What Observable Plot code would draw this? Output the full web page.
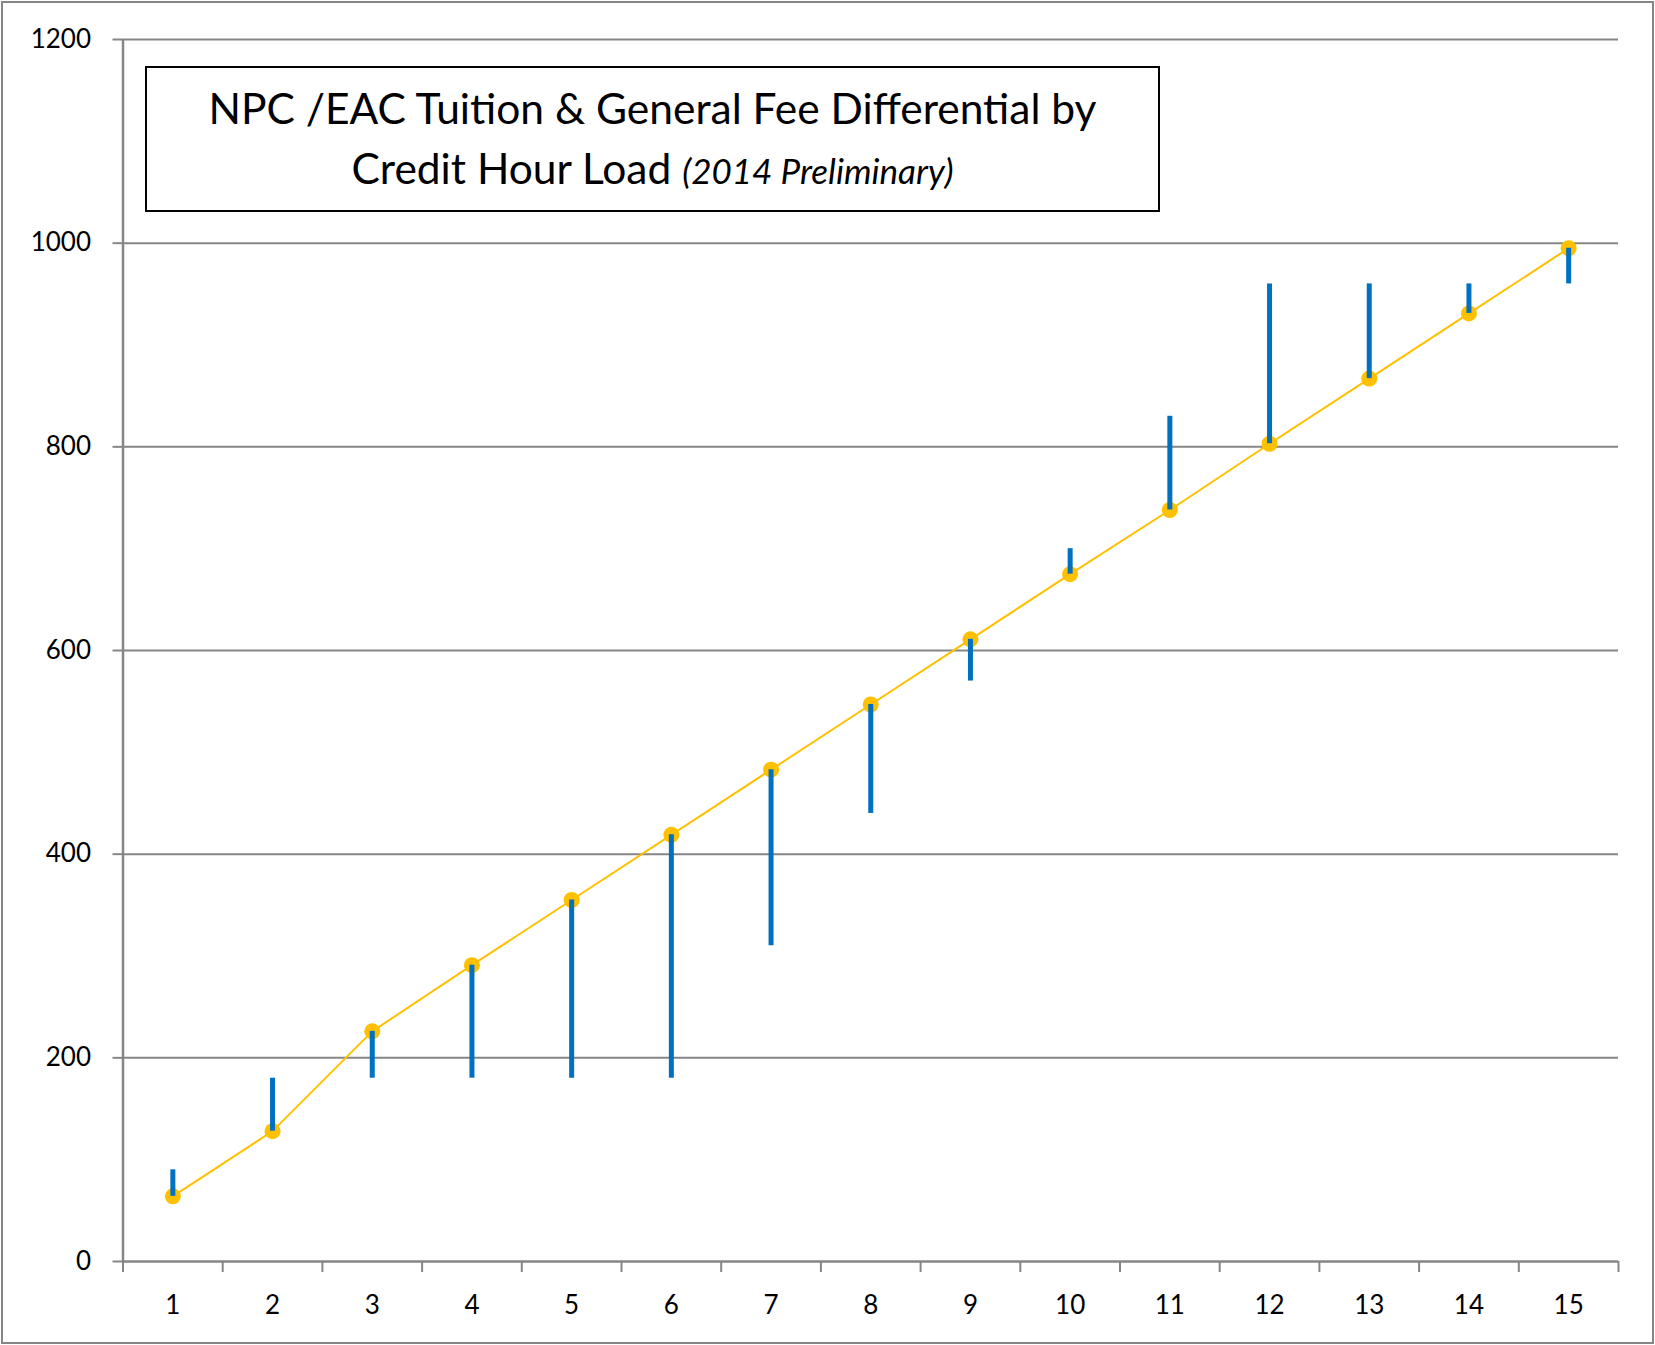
<!DOCTYPE html>
<html>
<head>
<meta charset="utf-8">
<script src="https://cdn.jsdelivr.net/npm/d3@7"></script>
<script src="https://cdn.jsdelivr.net/npm/@observablehq/plot@0.6"></script>
<style>
  html, body { margin: 0; padding: 0; background: #fff; }
  #wrap { position: relative; width: 1655px; height: 1345px; overflow: hidden; }
  #border { position: absolute; left: 1px; top: 1px; width: 1653px; height: 1343px; box-sizing: border-box; border: 2px solid #868686; pointer-events: none; }
  #title { position: absolute; left: 145px; top: 66px; width: 1015px; height: 146px; box-sizing: border-box; border: 2px solid #000; background: #fff;
           font-family: Lato, "Open Sans", sans-serif; color: #000; text-align: center; }
  #title .l1 { position: absolute; left: 0; right: 0; top: 16px; font-size: 42.5px; line-height: 48px; white-space: nowrap; }
  #title .l2 { position: absolute; left: 0; right: 0; top: 76px; font-size: 42.5px; line-height: 48px; white-space: nowrap; }
  #title .l2 i { font-size: 35px; }
</style>
</head>
<body>
<div id="wrap">
  <div id="chart"></div>
  <div id="title"><div class="l1">NPC /EAC Tuition &amp; General Fee Differential by</div><div class="l2">Credit Hour Load <i>(2014 Preliminary)</i></div></div>
  <div id="border"></div>
</div>
<script>
const creditHours = [1, 2, 3, 4, 5, 6, 7, 8, 9, 10, 11, 12, 13, 14, 15];
const lineSeries = [64, 128, 226, 291, 355, 419, 483, 547, 611, 675, 738, 803, 867, 931, 995];
const otherSeries = [90, 180, 180, 180, 180, 180, 310, 440, 570, 700, 830, 960, 960, 960, 960];
const yTicks = [0, 200, 400, 600, 800, 1000, 1200];

const data = creditHours.map((h, i) => ({h, a: lineSeries[i], b: otherSeries[i]}));
const bandEdges = d3.range(0.5, 15.51, 1);
const gray = "#868686";

const chart = Plot.plot({
  width: 1655,
  height: 1345,
  marginLeft: 122.5,
  marginRight: 37,
  marginTop: 39,
  marginBottom: 84,
  style: {fontFamily: "Lato, 'Open Sans', sans-serif", fontSize: "26px", color: "#000", background: "#fff"},
  x: {domain: [0.5, 15.5], axis: null},
  y: {domain: [0, 1200], axis: null},
  marks: [
    Plot.gridY(yTicks.filter(d => d > 0), {stroke: gray, strokeOpacity: 1, strokeWidth: 2}),
    Plot.axisY(yTicks, {tickSize: 10, tickPadding: 22, stroke: gray, strokeWidth: 2, fill: "#000", tickFormat: d => String(d), label: null}),
    Plot.axisX(bandEdges, {tickSize: 11, stroke: gray, strokeWidth: 2, tickFormat: () => "", label: null}),
    Plot.axisX(creditHours, {tickSize: 0, tickPadding: 34, fill: "#000", tickFormat: d => String(d), label: null}),
    Plot.ruleX([0.5], {stroke: gray, strokeWidth: 2.5}),
    Plot.ruleY([0], {stroke: gray, strokeWidth: 2.5}),
    Plot.line(data, {x: "h", y: "a", stroke: "#FFC000", strokeWidth: 2}),
    Plot.dot(data, {x: "h", y: "a", r: 8, fill: "#FFC000", stroke: "none"}),
    Plot.ruleX(data, {x: "h", y1: "a", y2: "b", stroke: "#0070C0", strokeWidth: 5})
  ]
});
document.getElementById("chart").appendChild(chart);
</script>
</body>
</html>
